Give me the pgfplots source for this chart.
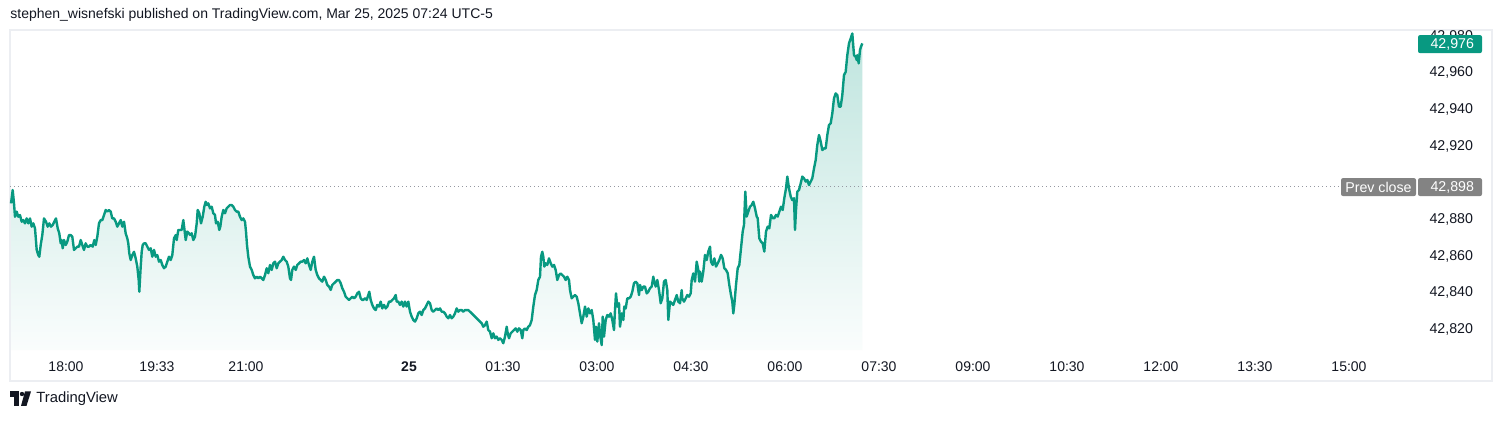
\documentclass[border=0pt]{standalone}
\usepackage{pgfplots}
\usepackage{pgfplotstable}
\pgfplotsset{compat=1.18}
\usepackage{fontspec}
\setmainfont{Liberation Sans}

\definecolor{tvgreen}{HTML}{089981}
\definecolor{tvtext}{HTML}{131722}
\definecolor{tvgray}{HTML}{838383}
\definecolor{tvdot}{HTML}{9598A1}
\definecolor{tvframe}{HTML}{ECEEF2}

% x = bar position on the time scale (screen px), y = index value
\pgfplotstableread{
x v
11 42888.7
12.7 42896.0
14 42888.7
15 42881.4
16.7 42884.2
18.3 42881.4
20 42882.3
21.7 42878.7
23.3 42879.6
25 42877.8
26.7 42880.5
28.3 42877.8
30 42880.5
31.7 42876.0
33.3 42877.8
35 42875.1
36.7 42863.3
38.3 42860.5
39.3 42859.6
40.7 42866.0
42.3 42871.4
44 42880.5
46 42878.7
47.7 42876.0
49.3 42877.8
51 42876.0
52.7 42876.9
54.3 42878.7
56 42880.5
57.7 42875.1
59.3 42872.3
60.7 42866.9
61.7 42868.7
62.7 42864.2
64 42868.7
65.7 42866.0
67.3 42867.8
69 42871.4
70.7 42871.4
72.3 42870.5
74 42863.3
75.7 42864.2
77.3 42865.1
79 42865.1
80.7 42868.7
82.3 42866.0
84 42863.3
85.7 42866.9
87.3 42865.1
89 42865.1
90.7 42866.0
92.7 42865.1
94.3 42868.7
95.7 42866.0
97.3 42870.5
99 42877.8
100.7 42879.6
102.3 42879.6
104 42882.3
105.7 42885.1
107.3 42884.2
109 42885.1
110.7 42884.2
112.3 42880.5
114 42880.5
115.7 42878.7
117.3 42876.0
119 42877.8
120.7 42879.6
122.3 42876.0
124 42878.7
125.7 42872.3
127.3 42869.6
128.3 42866.9
129.3 42861.4
130.7 42857.8
132.3 42860.5
134 42862.3
135.7 42858.7
137.3 42854.2
138.7 42846.9
139.3 42840.5
140.7 42854.2
141.7 42862.3
142.7 42866.0
144 42866.9
145.7 42866.9
147.3 42865.1
149 42863.3
150.7 42864.2
152.3 42859.6
154 42863.3
155.7 42859.6
157.3 42860.5
159 42856.9
160.7 42857.8
162.3 42855.1
164 42853.3
165.7 42854.2
167.3 42856.9
169 42859.6
170.7 42857.8
172.3 42860.5
174 42869.6
175.7 42871.4
176.7 42868.7
178.3 42874.2
180 42874.2
181.7 42874.2
183.3 42879.6
184.3 42875.1
185.7 42868.7
187.3 42873.3
189 42872.3
190 42871.5
191.7 42872.4
193.3 42868.7
195 42870.5
196.7 42877.8
197.7 42885.1
199.3 42883.3
201 42877.8
202.7 42881.4
204.3 42886.9
205.7 42889.6
207 42887.8
208.3 42888.7
210 42886.0
211.7 42886.9
213.3 42883.3
215 42882.4
216 42877.8
217.7 42878.7
219.3 42874.2
220.3 42876.0
221.7 42881.4
223.3 42885.1
225 42883.3
226.7 42886.0
228.3 42886.9
230 42887.8
231.7 42887.8
233.3 42886.9
235 42885.1
236.7 42884.2
238.3 42884.2
240 42881.4
241.7 42879.6
243.3 42880.5
245 42878.7
246 42873.3
247 42866.0
248.3 42859.6
250 42854.2
251.7 42852.4
253.3 42849.6
255 42847.8
256.7 42848.7
258.3 42847.8
260 42848.7
261.7 42847.8
263.3 42846.9
265 42849.6
266.7 42853.3
268.3 42850.6
270 42855.1
271.7 42852.4
273.3 42856.0
275 42856.9
276.7 42853.3
278.3 42856.0
280 42856.9
281.7 42857.8
283.3 42859.6
285 42857.8
286.7 42856.9
288.3 42854.2
290 42847.8
291 42846.9
292.3 42852.4
294 42854.2
295.7 42852.4
297.3 42855.1
299 42856.0
300.7 42856.9
302.3 42856.9
304 42857.8
305.7 42856.0
307.3 42858.7
309 42855.1
310.7 42852.4
312.3 42856.9
314 42859.6
315.7 42852.4
317.3 42849.6
319 42847.8
320.7 42846.9
322.3 42846.0
324 42848.7
325.7 42846.9
327.3 42844.2
329 42843.3
330.7 42841.5
332.3 42844.2
334 42845.1
335.7 42846.0
337.3 42846.9
339 42846.9
340.7 42845.1
342.3 42842.4
344 42840.5
345.7 42837.8
347.3 42836.9
349 42836.0
350.7 42836.9
352.3 42837.8
354 42836.9
355.7 42837.8
357.3 42839.6
359 42840.5
360.7 42836.9
362.3 42836.0
363.3 42836.0
365 42836.9
366.7 42836.0
368.3 42838.7
369.3 42840.5
370.7 42836.0
372.3 42833.3
374 42831.4
375.7 42830.5
377.3 42833.3
379 42832.4
380.7 42835.1
382.3 42831.4
384 42833.3
385.7 42831.4
387.3 42832.4
389 42835.1
390.7 42835.1
392.3 42836.0
394 42836.9
395.7 42838.7
396.7 42835.1
398.3 42835.1
400 42833.3
401.7 42835.1
403.3 42832.4
405 42835.1
406.7 42832.4
408.3 42835.1
410 42829.6
411.7 42826.9
413.3 42825.1
415 42824.2
416.7 42826.0
418.3 42828.7
420 42829.6
421.7 42827.8
423.3 42830.5
425 42831.4
426.7 42833.3
428.3 42835.1
430 42834.2
431.7 42830.5
433.3 42829.6
435 42830.5
436.7 42831.4
438.3 42830.5
440 42831.4
441.7 42829.6
443.3 42829.6
445 42828.7
446.7 42826.9
448.3 42826.0
450 42827.8
451.7 42826.0
453.3 42826.9
455 42828.7
456.7 42831.4
458.3 42829.6
460 42830.5
461.7 42830.5
463.3 42829.6
465 42830.5
466.7 42830.5
468.3 42830.5
470 42829.6
471.7 42828.7
473.3 42827.8
475 42826.9
476.7 42826.0
478.3 42825.1
480 42824.2
481.7 42823.3
483.3 42821.4
485 42822.3
486.7 42824.2
488.3 42819.6
490 42818.7
491.7 42815.1
493.3 42817.8
495 42815.1
496.7 42816.0
498.3 42814.2
500 42815.1
501.7 42814.2
503.3 42812.4
505 42816.0
506.7 42821.4
507.7 42817.8
509 42815.1
510.7 42817.8
512.3 42818.7
514 42819.6
515.7 42820.5
517.3 42818.7
519 42820.5
520.7 42819.6
522.3 42815.1
523.3 42819.6
525 42820.5
526.7 42819.6
528.3 42821.4
530 42822.3
531.7 42825.1
533.3 42832.4
535 42838.7
536.7 42841.5
538.3 42846.9
540 42848.7
541 42859.6
542.3 42862.3
543.3 42859.6
544.3 42854.2
545.7 42856.0
547.3 42855.1
549 42858.7
550.7 42856.0
552.3 42854.2
554 42855.1
555.7 42852.3
557.3 42846.9
559 42849.6
560.7 42850.5
562.3 42849.6
564 42848.7
565.7 42846.9
567.3 42848.7
569 42846.9
570 42841.4
571.7 42836.9
573.3 42837.8
575 42838.7
576.7 42837.8
578.3 42834.2
580 42828.7
581.7 42823.3
583.3 42826.9
585 42832.4
586.7 42826.9
588.3 42831.4
590 42828.7
591.7 42830.5
593.3 42825.1
595 42814.2
596 42821.4
597.3 42813.3
599 42823.3
600.3 42816.0
601.7 42811.4
602.7 42826.9
604 42816.0
605.7 42825.1
607.3 42827.8
609 42826.9
610.7 42828.7
612.3 42825.1
614 42819.6
615 42830.5
616 42839.6
617.3 42832.4
619 42834.2
620 42821.4
621.7 42828.7
623.3 42825.1
624.3 42832.4
625.7 42831.4
627.3 42836.9
629 42836.9
630.7 42837.8
632.3 42840.5
634 42845.1
635.7 42846.0
637.3 42845.1
639 42838.7
640 42844.2
641.7 42841.4
643.3 42843.3
645 42843.3
646.7 42839.6
648.3 42840.5
650 42842.4
651.7 42843.3
653.3 42848.7
654.3 42846.0
655.7 42843.3
657.3 42846.9
659 42841.4
660.7 42834.2
662.3 42836.9
664 42846.0
665.7 42846.9
667.3 42841.4
668.3 42825.1
670 42835.1
671.7 42834.2
673.3 42833.3
675 42836.0
676.7 42838.7
678.3 42835.1
680 42834.2
681.7 42841.4
682.3 42836.9
684 42835.1
685.7 42836.9
687.3 42838.7
689 42837.8
690.7 42839.6
691.7 42846.9
693.3 42850.5
695 42846.0
696.7 42856.9
698.3 42852.3
699.3 42846.0
700 42851.5
701.7 42846.0
703.3 42851.5
705 42860.6
706.7 42857.8
708.3 42862.4
710 42865.1
711 42856.9
712.7 42855.1
714.3 42858.7
716 42854.2
717.7 42856.0
719.3 42857.8
721 42860.6
722.7 42858.7
724.3 42853.3
726 42852.4
727.7 42850.6
729.3 42844.2
731 42838.7
732.3 42835.1
733.3 42828.7
734.3 42833.3
736 42844.2
737.7 42853.3
739.3 42855.1
741 42864.2
742.7 42873.3
744 42876.9
745.3 42895.1
746.7 42881.5
748.3 42884.2
750 42886.9
751.7 42887.8
753.3 42889.6
755 42886.0
756.7 42881.5
757.7 42880.6
759.3 42869.6
761 42867.8
762.7 42866.9
764.3 42862.4
766 42873.3
767.7 42876.0
769.3 42875.1
771 42882.4
772.7 42880.6
774.3 42880.6
776 42882.4
777.7 42881.5
779.3 42884.2
781 42886.9
782.7 42885.1
784.3 42891.5
786 42896.9
787.3 42903.3
789 42896.9
790.7 42892.4
792.3 42890.5
794 42891.5
795 42874.2
796 42885.1
797.3 42895.1
799 42896.0
800.7 42899.6
802.3 42903.3
804 42902.4
805.7 42900.6
807.3 42901.5
809 42898.7
810.7 42900.6
812.3 42902.4
814 42907.8
815.7 42912.4
817.3 42920.6
819 42926.0
820.7 42922.4
822.3 42917.8
824 42918.7
825.7 42918.7
827.3 42926.0
829 42931.5
830.7 42932.4
832.3 42937.8
834 42946.0
835.7 42948.7
837.3 42947.8
839 42941.5
840.7 42941.5
842.3 42947.8
844 42958.7
845.7 42960.5
847.3 42969.6
849 42976.0
850.7 42978.7
852.3 42981.4
854 42969.6
855.7 42968.7
856.7 42966.9
857.3 42969.6
858.7 42965.1
860 42972.4
861 42974.2
862.3 42976.0
}\pricedata

\begin{document}
\begin{tikzpicture}
\useasboundingbox[fill=white] (0,0) rectangle (750pt,210pt);
\draw[tvframe, line width=0.6pt] (5pt,19.5pt) rectangle (746pt,195pt);

\begin{axis}[
at={(5pt,35pt)}, anchor=south west,
scale only axis,
width=704pt, height=160pt,
xmin=10, xmax=1418,
ymin=42808.7, ymax=42983.3,
clip=false,
axis line style={draw=none},
major tick length=0pt,
scaled y ticks=false,
/pgf/number format/assume math mode=true,
/pgf/number format/.cd, fixed, precision=0, 1000 sep={,},
/pgfplots/.cd,
xtick={66,157,246,409,503,597,691,785,879,973,1067,1161,1255,1349},
xticklabels={18:00,19:33,21:00,\textbf{25},01:30,03:00,04:30,06:00,07:30,09:00,10:30,12:00,13:30,15:00},
xticklabel style={font=\fontsize{7}{8}\selectfont, text=tvtext, anchor=center, yshift=-8.5pt},
ytick={42820,42840,42860,42880,42920,42940,42960,42980},
yticklabel pos=right,
yticklabel style={font=\fontsize{7.1}{8}\selectfont, text=tvtext, anchor=east, xshift=31pt},
]
% area under the line
\addplot[draw=none, top color=tvgreen!26!white, bottom color=tvgreen!2!white]
  table[x=x, y=v] {\pricedata} -- (axis cs:862.3,42808.7) -- (axis cs:11,42808.7) -- cycle;
% previous close
\draw[tvdot, line width=0.6pt, dash pattern=on 0.6pt off 1.4pt] (axis cs:10,42898) -- (axis cs:1340,42898);
% price line
\addplot[tvgreen, line width=1.2pt, line join=round] table[x=x, y=v] {\pricedata};

% price scale labels
\fill[tvgreen, rounded corners=1pt] (axis cs:1418,42970.7) rectangle (axis cs:1482,42980.5);
\node[text=white, font=\fontsize{7.1}{8}\selectfont, anchor=east] at (axis cs:1481,42975.6) {42,976};
\fill[tvgray, rounded corners=1pt] (axis cs:1341,42892.7) rectangle (axis cs:1416,42902.5);
\node[text=white, font=\fontsize{7.1}{8}\selectfont] at (axis cs:1378.5,42897.6) {Prev close};
\fill[tvgray, rounded corners=1pt] (axis cs:1418,42892.7) rectangle (axis cs:1482,42902.5);
\node[text=white, font=\fontsize{7.1}{8}\selectfont, anchor=east] at (axis cs:1481,42897.6) {42,898};

% header and footer
\node[anchor=west, inner sep=0pt, text=tvtext, font=\fontsize{7}{8}\selectfont] at (axis cs:10,42991.4)
  {stephen\_wisnefski published on TradingView.com, Mar 25, 2025 07:24 UTC-5};
\fill[tvtext] (axis cs:10,42786.1) rectangle (axis cs:19,42783.3);
\fill[tvtext] (axis cs:14,42783.3) rectangle (axis cs:19,42778.2);
\fill[tvtext] (axis cs:22,42784.7) circle[radius=1.1pt];
\fill[tvtext] (axis cs:25,42786.1) -- (axis cs:31,42786.1) -- (axis cs:26.5,42778.2) -- (axis cs:21,42778.2) -- cycle;
\node[anchor=west, inner sep=0pt, text=tvtext, font=\fontsize{7.4}{8}\selectfont] at (axis cs:36,42781.9) {TradingView};
\end{axis}
\end{tikzpicture}
\end{document}
